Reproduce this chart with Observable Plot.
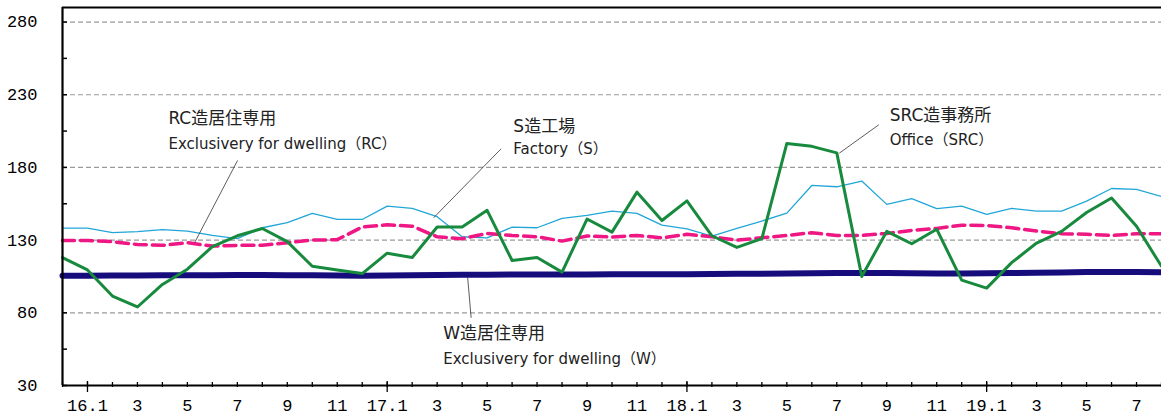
<!DOCTYPE html>
<html><head><meta charset="utf-8">
<script src="https://cdn.jsdelivr.net/npm/d3@7"></script>
<script src="https://cdn.jsdelivr.net/npm/@observablehq/plot@0.6"></script>
<style>html,body{margin:0;padding:0;background:#fff;overflow:hidden}</style>
</head><body><div id="chart"></div>
<script>
// months: 15.12 .. 19.8 (index k = 0..44)
const months = ["15.12","16.1","16.2","16.3","16.4","16.5","16.6","16.7","16.8","16.9","16.10","16.11","16.12",
"17.1","17.2","17.3","17.4","17.5","17.6","17.7","17.8","17.9","17.10","17.11","17.12",
"18.1","18.2","18.3","18.4","18.5","18.6","18.7","18.8","18.9","18.10","18.11","18.12",
"19.1","19.2","19.3","19.4","19.5","19.6","19.7","19.8"];

// W造居住専用 (navy, thick)
const wDwelling = [105.5,105.5,105.6,105.7,105.8,105.8,105.9,106,106,105.9,105.8,105.6,105.5,
105.6,105.8,106,106.1,106.2,106.3,106.3,106.3,106.4,106.5,106.5,106.5,
106.6,106.7,106.8,106.9,107,107.2,107.3,107.3,107.3,107.2,107.1,107.1,
107.2,107.4,107.6,107.8,108,108.1,108,107.9];

// S造工場 (light blue, thin)
const sFactory = [138.3,138.3,135.1,135.8,137.2,136.2,133.2,131,138.5,142,148.4,144.2,144.2,
153.4,151.8,146.1,132.3,131.6,138.9,138.5,145,147,150,148.4,140.3,
137.8,132.8,138,143.1,148.6,167.6,166.7,170.6,154.6,158.5,151.6,153.4,
147.7,151.8,150,150,156.8,165.5,164.9,160];

// RC造居住専用 (pink, dashed)
const rcDwelling = [129.8,129.8,128.9,127,126.4,128.2,125.9,126.4,126.4,128.2,130,130.3,139,
140.5,139.6,132.3,131,134.6,133.2,132.3,129.3,132.8,132.1,133.2,131.6,
134,132.3,130,131.6,133.2,135.1,133.2,133.2,134.6,136.7,138,140.3,
140.1,138.5,136.2,134.4,134,133.2,134.4,134.4];

// SRC造事務所 (green)
const srcOffice = [118,109.5,91.5,84,99.5,110,125.5,133,138,129,112,109.5,107,
121,118,139,139,150.5,116,118,108,144.5,135.5,163,143.5,
157,133,125,131,196.5,194.5,190,105,136,127.5,137.5,102.5,
97,114.5,128,136,149,159,139.5,112];

// axis tick labels
const yLabelTicks = [30, 80, 130, 180, 230, 280];
const yGridTicks = [80, 130, 180, 230, 280];
const yMinorTicks = [55, 105, 155, 205, 255];
const xLabelTicks = [1,3,5,7,9,11,13,15,17,19,21,23,25,27,29,31,33,35,37,39,41,43];
const xTickLabels = ["16.1","3","5","7","9","11","17.1","3","5","7","9","11","18.1","3","5","7","9","11","19.1","3","5","7"];
const yearTicks = [1, 13, 25, 37];

// annotations (data coordinates: month index, value)
const noteJa = [
  {k: 4.24, v: 213.3, t: "RC造居住専用"},
  {k: 18.05, v: 207.8, t: "S造工場"},
  {k: 33.12, v: 215.7, t: "SRC造事務所"},
  {k: 15.24, v: 65.6, t: "W造居住専用"}
];
const noteEn = [
  {k: 4.24, v: 196.1, t: "Exclusivery for dwelling（RC）"},
  {k: 18.05, v: 192.7, t: "Factory（S）"},
  {k: 33.12, v: 198.9, t: "Office（SRC）"},
  {k: 15.24, v: 48.2, t: "Exclusivery for dwelling（W）"}
];
const leaders = [
  {k1: 7.01, v1: 184.8, k2: 5.30, v2: 128.6},
  {k1: 17.56, v1: 192.8, k2: 14.86, v2: 145.4},
  {k1: 32.68, v1: 209.3, k2: 31.10, v2: 189.8},
  {k1: 16.22, v1: 104.5, k2: 16.36, v2: 76.6}
];

const allK = months.map((m, i) => i);
const labelMap = new Map(xLabelTicks.map((k, i) => [k, xTickLabels[i]]));
const series = (arr) => arr.map((v, k) => ({k, v}));

const chart = Plot.plot({
  width: 1161, height: 419,
  marginLeft: 62, marginRight: 0, marginTop: 7, marginBottom: 34,
  x: {domain: [0, 44]},
  y: {domain: [30, 290]},
  style: {background: "#fff", color: "#000"},
  marks: [
    Plot.ruleY(yGridTicks, {stroke: "#9a9a9a", strokeWidth: 1.2, strokeDasharray: "5,3"}),
    // y labels
    Plot.axisY({ticks: yLabelTicks, tickSize: 0, tickPadding: 25, label: null,
      fontFamily: "Liberation Mono", fontSize: 17, fill: "#000"}),
    // y tick marks (inward)
    Plot.ruleY(yLabelTicks.concat(yMinorTicks), {x1: 0, x2: 0, insetRight: -5, stroke: "#000", strokeWidth: 1.5}),
    // x tick marks
    Plot.ruleX(allK, {y1: 30, y2: 30, insetTop: -3, insetBottom: -2, stroke: "#000", strokeWidth: 1.3}),
    Plot.ruleX(yearTicks, {y1: 30, y2: 30, insetTop: -4, insetBottom: -7, stroke: "#000", strokeWidth: 1.3}),
    // x labels
    Plot.axisX({ticks: xLabelTicks, tickSize: 0, tickPadding: 13, label: null,
      tickFormat: d => labelMap.get(d), fontFamily: "Liberation Mono", fontSize: 17, fill: "#000"}),
    // data lines
    Plot.line(series(wDwelling), {x: "k", y: "v", stroke: "#170c7c", strokeWidth: 6}),
    Plot.line(series(sFactory), {x: "k", y: "v", stroke: "#22a6d8", strokeWidth: 1.3}),
    Plot.line(series(rcDwelling), {x: "k", y: "v", stroke: "#ee1784", strokeWidth: 3.5, strokeDasharray: "12,6"}),
    Plot.line(series(srcOffice), {x: "k", y: "v", stroke: "#178a3d", strokeWidth: 3}),
    // leader lines
    Plot.link(leaders, {x1: "k1", y1: "v1", x2: "k2", y2: "v2", stroke: "#333", strokeWidth: 0.8}),
    // annotation text
    Plot.text(noteJa, {x: "k", y: "v", text: "t", textAnchor: "start", lineAnchor: "middle",
      fontFamily: "DejaVu Sans, Noto Sans CJK JP", fontSize: 17, fill: "#222"}),
    Plot.text(noteEn, {x: "k", y: "v", text: "t", textAnchor: "start", lineAnchor: "middle",
      fontFamily: "DejaVu Sans, Noto Sans CJK JP", fontSize: 15, fill: "#222"}),
    // frame lines
    Plot.ruleX([0], {stroke: "#000", strokeWidth: 2.2}),
    Plot.ruleY([30], {stroke: "#000", strokeWidth: 2.2}),
    Plot.ruleY([290], {stroke: "#000", strokeWidth: 2})
  ]
});
document.getElementById("chart").appendChild(chart);
</script>
</body></html>
